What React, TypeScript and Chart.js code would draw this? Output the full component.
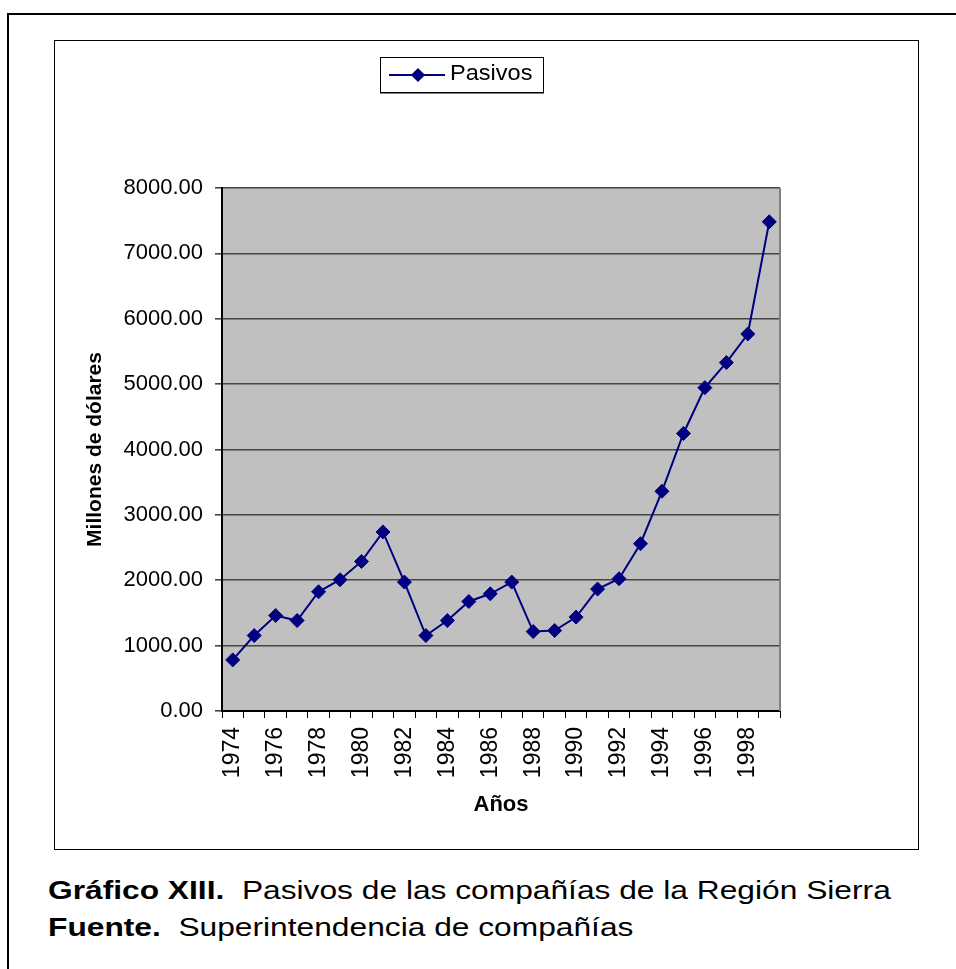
import React, { useEffect, useRef } from 'react';
import { Chart, registerables } from 'chart.js';

Chart.register(...registerables);

const years = ['1974', '1975', '1976', '1977', '1978', '1979', '1980', '1981', '1982', '1983', '1984', '1985', '1986', '1987', '1988', '1989', '1990', '1991', '1992', '1993', '1994', '1995', '1996', '1997', '1998', '1999'];
const pasivos = [782, 1154, 1461, 1384, 1824, 2008, 2288, 2739, 1972, 1154, 1384, 1675, 1793, 1972, 1215, 1231, 1436, 1865, 2023, 2559, 3361, 4245, 4946, 5329, 5767, 7483];
const seriesLabel = 'Pasivos';
const yTitle = 'Millones de dólares';
const xTitle = 'Años';
const yMin = 0;
const yMax = 8000;
const yStep = 1000;
const captionBold1 = 'Gráfico XIII.';
const captionText1 = 'Pasivos de las compañías de la Región Sierra';
const captionBold2 = 'Fuente.';
const captionText2 = 'Superintendencia de compañías';

const FONT = '"Liberation Sans", Arial, Helvetica, sans-serif';
const NAVY = '#000080';

const plotBg = {
  id: 'plotBg',
  beforeDraw(chart: any) {
    const { ctx, chartArea: a } = chart;
    ctx.save();
    ctx.fillStyle = '#c0c0c0';
    ctx.fillRect(a.left, a.top, a.right - a.left, a.bottom - a.top);
    ctx.restore();
  },
  beforeDatasetsDraw(chart: any) {
    const { ctx, chartArea: a } = chart;
    ctx.save();
    ctx.strokeStyle = '#808080';
    ctx.lineWidth = 2;
    ctx.beginPath();
    ctx.moveTo(a.right, a.top);
    ctx.lineTo(a.right, a.bottom);
    ctx.stroke();
    ctx.restore();
  },
};

export default function App() {
  const ref = useRef<HTMLCanvasElement | null>(null);

  useEffect(() => {
    document.body.style.margin = '0';
    document.body.style.overflow = 'hidden';
    const canvas = ref.current;
    if (!canvas) return;
    Chart.defaults.font.family = FONT;
    Chart.defaults.color = '#000';
    const chart = new Chart(canvas, {
      type: 'line',
      data: {
        labels: years,
        datasets: [
          {
            label: seriesLabel,
            data: pasivos,
            borderColor: NAVY,
            backgroundColor: NAVY,
            borderWidth: 2,
            pointStyle: 'rectRot',
            pointRadius: 7,
            pointBorderWidth: 1,
            pointBackgroundColor: NAVY,
            pointBorderColor: NAVY,
            tension: 0,
            fill: false,
          },
        ],
      },
      options: {
        animation: false,
        responsive: false,
        devicePixelRatio: 1,
        layout: { padding: { left: 0, top: 148, right: 138, bottom: 0 } },
        plugins: {
          legend: { display: false },
          tooltip: { enabled: false },
        },
        scales: {
          x: {
            type: 'category',
            offset: true,
            afterFit(s: any) {
              s.height = 138;
            },
            ticks: {
              autoSkip: false,
              minRotation: 90,
              maxRotation: 90,
              padding: 9,
              color: '#000',
              font: { size: 23, family: FONT },
              callback(this: any, v: any, i: number) {
                return i % 2 === 0 ? this.getLabelForValue(v) : '';
              },
            },
            grid: {
              offset: true,
              drawOnChartArea: false,
              drawTicks: true,
              tickLength: 7,
              color: '#000',
              lineWidth: 1,
            },
            border: { color: '#000', width: 2 },
            title: {
              display: true,
              text: xTitle,
              color: '#000',
              font: { size: 22, weight: 'bold', family: FONT },
              padding: { top: 0, bottom: 31 },
            },
          },
          y: {
            min: yMin,
            max: yMax,
            afterFit(s: any) {
              s.width = 168;
            },
            ticks: {
              stepSize: yStep,
              padding: 12,
              color: '#000',
              font: { size: 22, family: FONT },
              callback: (v: any) => Number(v).toFixed(2),
            },
            grid: {
              color: '#454545',
              lineWidth: 1.6,
              drawTicks: true,
              tickLength: 7,
            },
            border: { color: '#000', width: 2 },
            title: {
              display: true,
              text: yTitle,
              color: '#000',
              font: { size: 21, weight: 'bold', family: FONT },
              padding: { top: 29, bottom: 0 },
            },
          },
        },
      },
      plugins: [plotBg],
    } as any);
    return () => chart.destroy();
  }, []);

  const captionStyle: React.CSSProperties = {
    position: 'absolute',
    left: 48,
    fontFamily: FONT,
    fontSize: 26,
    lineHeight: 1,
    whiteSpace: 'pre',
    transform: 'scaleX(1.22)',
    transformOrigin: 'left top',
    color: '#000',
  };

  return (
    <div style={{ position: 'relative', width: 956, height: 969, overflow: 'hidden', background: '#fff' }}>
      <div style={{ position: 'absolute', left: 7, top: 13, width: 1100, height: 1100, border: '2px solid #000' }} />
      <div style={{ position: 'absolute', left: 54, top: 40, width: 865, height: 810, border: '1px solid #000', boxSizing: 'border-box' }} />
      <canvas ref={ref} width={864} height={809} style={{ position: 'absolute', left: 54, top: 40, width: 864, height: 809 }} />
      <div
        style={{
          position: 'absolute',
          left: 380,
          top: 57,
          width: 164,
          height: 36,
          border: '1px solid #000',
          boxSizing: 'border-box',
          background: '#fff',
          boxShadow: '0 1px 0 #808080',
        }}
      >
        <div style={{ position: 'absolute', left: 8, top: 16, width: 56, height: 2, background: NAVY }} />
        <div style={{ position: 'absolute', left: 32, top: 12, width: 10, height: 10, background: NAVY, transform: 'rotate(45deg)' }} />
        <div
          style={{
            position: 'absolute',
            left: 69,
            top: 4,
            fontFamily: FONT,
            fontSize: 22,
            lineHeight: 1,
            whiteSpace: 'pre',
            transform: 'scaleX(1.07)',
            transformOrigin: 'left top',
          }}
        >
          {seriesLabel}
        </div>
      </div>
      <div style={{ ...captionStyle, top: 877 }}>
        <b>{captionBold1}</b>
        {'  ' + captionText1}
      </div>
      <div style={{ ...captionStyle, top: 914 }}>
        <b>{captionBold2}</b>
        {'  ' + captionText2}
      </div>
    </div>
  );
}
